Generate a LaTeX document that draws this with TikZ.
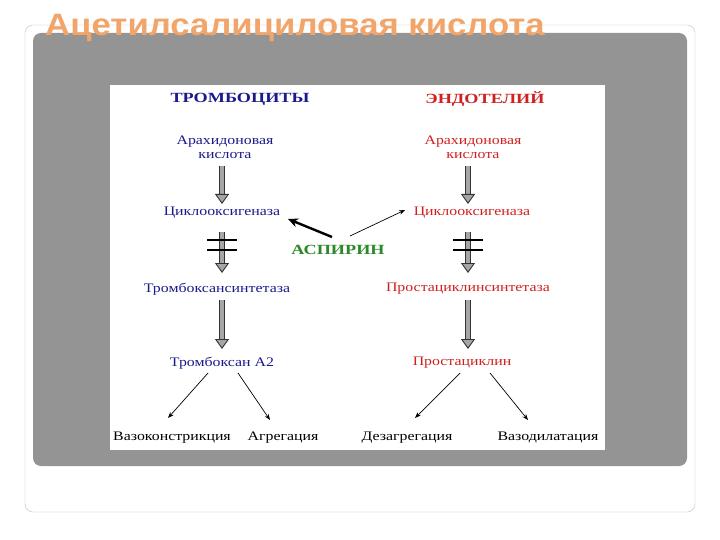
\documentclass[tikz,border=0pt]{standalone}
\usepackage{fontspec}
\setmainfont{Liberation Serif}
\newfontfamily\titlefont{Liberation Sans}
\usetikzlibrary{arrows.meta}
\definecolor{navy}{HTML}{1A1A8C}
\definecolor{rd}{HTML}{D02020}
\definecolor{gr}{HTML}{2A8A2A}
\definecolor{ttl}{HTML}{F2A56A}
\begin{document}
\begin{tikzpicture}[x=1pt,y=-1pt,
 lbl/.style={font=\fontsize{13}{14}\selectfont,align=center,inner sep=1pt,xscale=1.22},
 bot/.style={lbl,anchor=base},
 hdr/.style={font=\bfseries\fontsize{14}{15}\selectfont,inner sep=1pt,xscale=1.3},
 blk/.style={double=black!35,draw=black!80,double distance=4pt,line width=0.9pt,-{Triangle[length=10pt,width=14pt,fill=black!35]}},
 thin/.style={-{Stealth[length=6pt]},line width=0.7pt},
 bar/.style={line width=1.5pt}]
\useasboundingbox (0,0) rectangle (720,540);
\fill[white] (0,0) rectangle (720,540);
\draw[black!25,rounded corners=8pt] (25,25) rectangle (695,512);
\fill[black!42,rounded corners=8pt] (33,33) rectangle (687,466);
\fill[white] (110,85) rectangle (605,450);
\node[font=\titlefont\bfseries\fontsize{31}{34}\selectfont,text=ttl,anchor=west,xscale=1.12,inner sep=0pt] (title) at (45,28) {Ацетилсалициловая кислота};
\node[hdr,text=navy] (h1) at (240,99) {ТРОМБОЦИТЫ};
\node[hdr,text=rd] (h2) at (485,99) {ЭНДОТЕЛИЙ};
\node[lbl,text=navy] (a1) at (225,147) {Арахидоновая\\кислота};
\node[lbl,text=rd] (a2) at (473,147) {Арахидоновая\\кислота};
\node[lbl,text=navy] (c1) at (222,213) {Циклооксигеназа};
\node[lbl,text=rd] (c2) at (472,213) {Циклооксигеназа};
\node[hdr,text=gr] (asp) at (338,250) {АСПИРИН};
\node[lbl,text=navy] (t1) at (217,289) {Тромбоксансинтетаза};
\node[lbl,text=rd] (t2) at (468,289) {Простациклинсинтетаза};
\node[lbl,text=navy] (p1) at (222,363) {Тромбоксан А2};
\node[lbl,text=rd] (p2) at (462,363) {Простациклин};
\node[bot] (e1) at (172,440) {Вазоконстрикция};
\node[bot] (e2) at (283,440) {Агрегация};
\node[bot] (e3) at (407,440) {Дезагрегация};
\node[bot] (e4) at (548,440) {Вазодилатация};
\foreach \x in {222, 468}{
 \draw[blk] (\x,166) -- (\x,204);
 \draw[blk] (\x,232) -- (\x,273);
 \draw[bar] (\x-15,240) -- (\x+15,240) (\x-15,250) -- (\x+15,250);
 \draw[blk] (\x,300) -- (\x,349);
}
\draw[thin] (208,373) -- (168,418);
\draw[thin] (238,373) -- (270,420);
\draw[thin] (460,373) -- (415,418);
\draw[thin] (490,373) -- (528,420);
\draw[-{Stealth[length=10pt,width=9pt]},line width=2.4pt] (332,237) -- (288,219);
\draw[thin] (350,236) -- (405,210);
\end{tikzpicture}
\end{document}
